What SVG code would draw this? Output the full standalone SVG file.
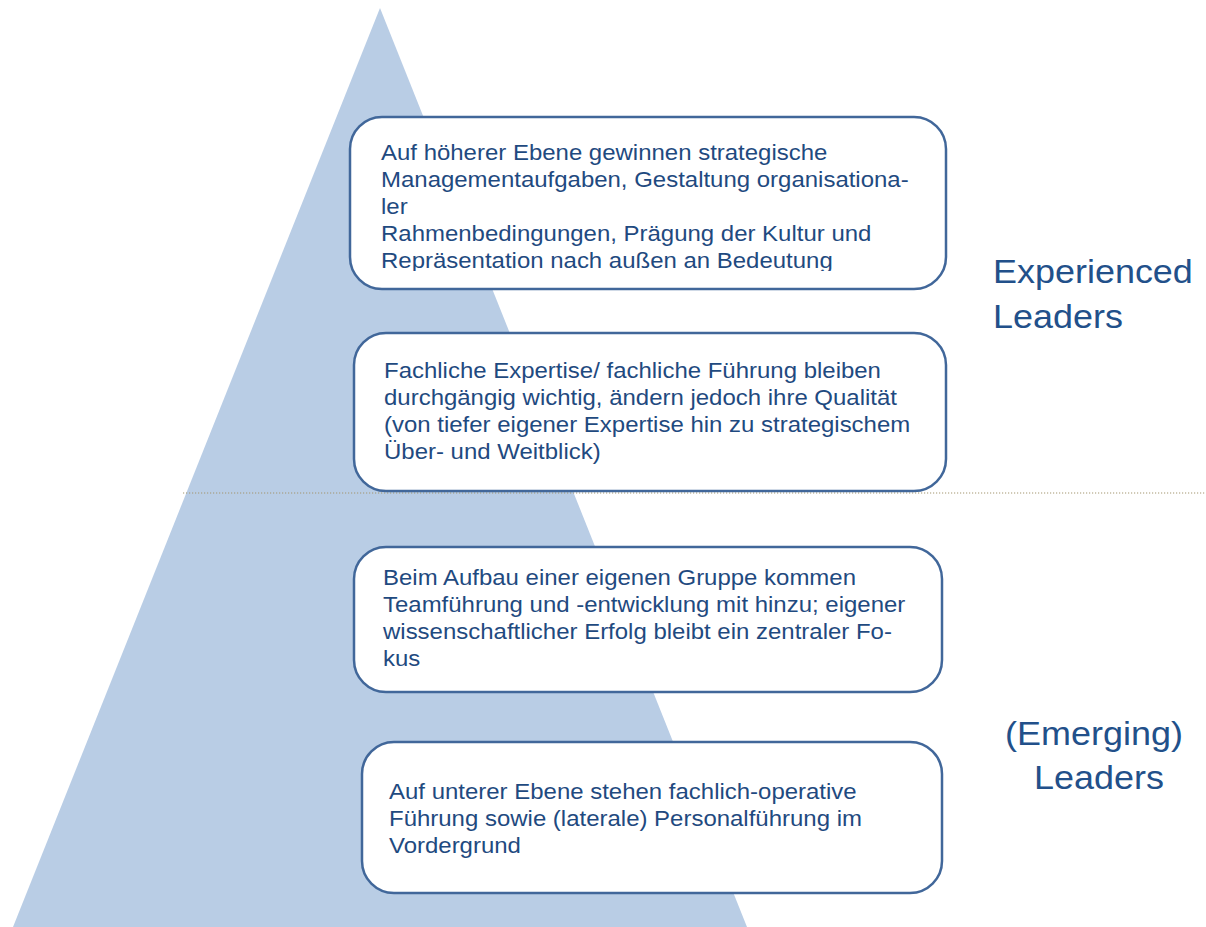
<svg xmlns="http://www.w3.org/2000/svg" width="1206" height="927" viewBox="0 0 1206 927">
  <defs>
    <style>
      .box { fill: #ffffff; stroke: #41679a; stroke-width: 2.5; }
      .txt { font-family: "Liberation Sans", Arial, sans-serif; font-size: 22px; fill: #1f4a80; }
      .lbl { font-family: "Liberation Sans", Arial, sans-serif; font-size: 33px; fill: #22508a; }
      .sep { stroke: #a39570; stroke-width: 1.2; stroke-dasharray: 1.2 1.8; fill: none; }
    </style>
    <clipPath id="clip-top">
      <rect x="350" y="117" width="596" height="154"/>
    </clipPath>
  </defs>

  <rect width="1206" height="927" fill="#ffffff"/>

  <!-- pyramid -->
  <polygon id="pyramid" points="380,8 13,927 747,927" fill="#b9cde5"/>

  <!-- separator between the two leader levels -->
  <g id="connectors">
    <line class="sep" x1="183" y1="493" x2="1206" y2="493"/>
  </g>

  <!-- level 4: strategic management -->
  <g id="level-4">
    <rect class="box" x="350" y="117" width="596" height="172" rx="32"/>
    <g clip-path="url(#clip-top)">
      <text class="txt" transform="translate(381,0) scale(1.09,1)">
        <tspan x="0" y="160">Auf höherer Ebene gewinnen strategische</tspan>
        <tspan x="0" y="187">Managementaufgaben, Gestaltung organisationa-</tspan>
        <tspan x="0" y="214">ler</tspan>
        <tspan x="0" y="241">Rahmenbedingungen, Prägung der Kultur und</tspan>
        <tspan x="0" y="268">Repräsentation nach außen an Bedeutung</tspan>
      </text>
    </g>
  </g>

  <!-- level 3: expertise -->
  <g id="level-3">
    <rect class="box" x="354" y="333" width="592" height="158" rx="32"/>
    <text class="txt" transform="translate(384,0) scale(1.09,1)">
      <tspan x="0" y="378">Fachliche Expertise/ fachliche Führung bleiben</tspan>
      <tspan x="0" y="405">durchgängig wichtig, ändern jedoch ihre Qualität</tspan>
      <tspan x="0" y="432">(von tiefer eigener Expertise hin zu strategischem</tspan>
      <tspan x="0" y="459">Über- und Weitblick)</tspan>
    </text>
  </g>

  <!-- level 2: own group -->
  <g id="level-2">
    <rect class="box" x="354" y="547" width="588" height="145" rx="32"/>
    <text class="txt" transform="translate(383,0) scale(1.09,1)">
      <tspan x="0" y="585">Beim Aufbau einer eigenen Gruppe kommen</tspan>
      <tspan x="0" y="612">Teamführung und -entwicklung mit hinzu; eigener</tspan>
      <tspan x="0" y="639">wissenschaftlicher Erfolg bleibt ein zentraler Fo-</tspan>
      <tspan x="0" y="666">kus</tspan>
    </text>
  </g>

  <!-- level 1: operational -->
  <g id="level-1">
    <rect class="box" x="362" y="742" width="580" height="151" rx="32"/>
    <text class="txt" transform="translate(389,0) scale(1.09,1)">
      <tspan x="0" y="799">Auf unterer Ebene stehen fachlich-operative</tspan>
      <tspan x="0" y="826">Führung sowie (laterale) Personalführung im</tspan>
      <tspan x="0" y="853">Vordergrund</tspan>
    </text>
  </g>

  <!-- side labels -->
  <g id="label-experienced">
    <text class="lbl" transform="translate(993,0) scale(1.09,1)">
      <tspan x="0" y="283">Experienced</tspan>
      <tspan x="0" y="328">Leaders</tspan>
    </text>
  </g>
  <g id="label-emerging">
    <text class="lbl" text-anchor="middle" transform="translate(1099,0) scale(1.09,1)">
      <tspan x="0" y="745">(Emerging)</tspan>
      <tspan x="0" y="789">Leaders</tspan>
    </text>
  </g>
</svg>
